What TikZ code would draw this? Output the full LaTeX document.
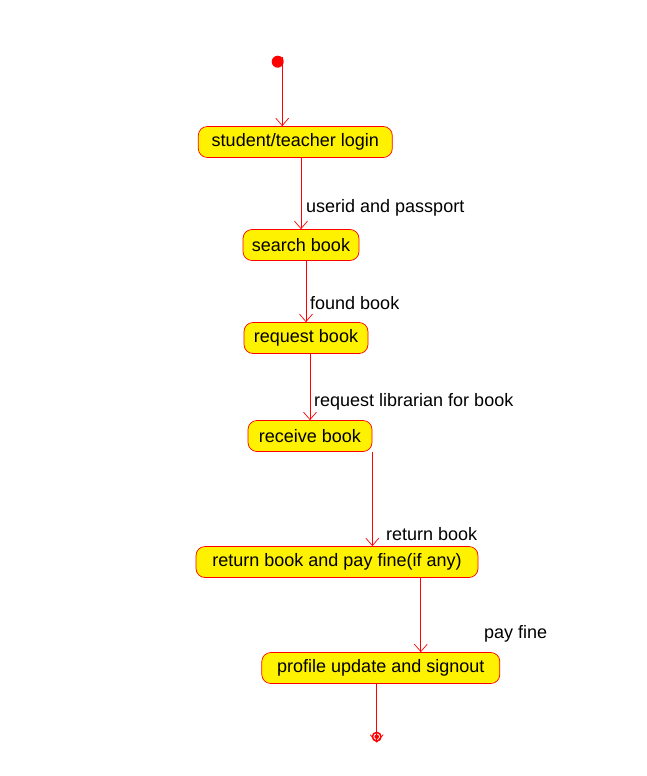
\documentclass[tikz,border=0pt]{standalone}
\usepackage{fontspec}
\setmainfont{Liberation Sans}
\usetikzlibrary{arrows.meta}
\begin{document}
\begin{tikzpicture}[x=1pt,y=-1pt,
		activity/.style={draw=red,fill=yellow,line width=0.7pt,rounded corners=9pt,
			minimum height=31pt,inner sep=0pt,font=\fontsize{18}{21}\selectfont},
		flow/.style={draw=red,line width=0.7pt,-{Straight Barb[length=7.5pt,width=13pt]}},
		guard/.style={anchor=base west,inner sep=0pt,font=\fontsize{18}{21}\selectfont}]
		\useasboundingbox (0,0) rectangle (646,776);
		\fill[red] (277.7,61.7) circle (6) coordinate (start);
		\node[activity,minimum width=194pt] (login) at (295.3,142) {student/teacher login};
		\node[activity,minimum width=116pt] (search) at (301,245) {search book};
		\node[activity,minimum width=124pt] (request) at (306,338) {request book};
		\node[activity,minimum width=124pt] (receive) at (310,436) {receive book};
		\node[activity,minimum width=282pt] (return) at (337,562) {return book and pay fine(if any)};
		\node[activity,minimum width=238pt] (profile) at (380.8,668) {profile update and signout};
		\draw[red,line width=1.5pt] (376.7,736.7) coordinate (end) circle (4.3);
		\fill[red] (end) circle (2.3);
		\draw[flow] ([xshift=4.5pt,yshift=4.5pt]start) -- ([xshift=4.5pt]start |- login.north);
		\draw[flow] (search.north |- login.south) -- (search.north);
		\draw[flow] (request.north |- search.south) -- (request.north);
		\draw[flow] (receive.north |- request.south) -- (receive.north);
		\draw[flow] (receive.south east) -- (receive.south east |- return.north);
		\draw[flow] ([xshift=40pt]profile.north |- return.south) -- ([xshift=40pt]profile.north);
		\draw[flow] (profile.south -| end) -- ([yshift=-6pt]end);
		\node[guard] (userid) at (306,212) {userid and passport};
		\node[guard] (found) at (310,309) {found book};
		\node[guard] (librarian) at (314,406) {request librarian for book};
		\node[guard] (returned) at (386,540) {return book};
		\node[guard] (fine) at (484,638) {pay fine};
	\end{tikzpicture}
\end{document}
